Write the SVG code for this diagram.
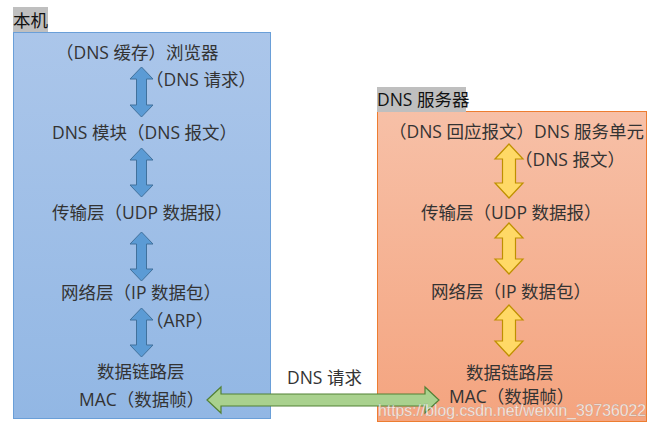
<svg xmlns="http://www.w3.org/2000/svg" width="659" height="429" viewBox="0 0 659 429">
<style>
text{font-family:"Open Sans","Noto Sans CJK SC",sans-serif;font-size:17.5px;fill:#333}
.lbl{fill:#111}
.blue{fill:#5b9bd5;stroke:#41719c;stroke-width:1}
.yel{fill:#ffd966;stroke:#bf9000;stroke-width:1.2}
.grn{fill:#a9d18e;stroke:#538135;stroke-width:1.2}
.wm{font-family:"Liberation Sans",Arial,sans-serif;font-size:17px;fill:#ffffff;fill-opacity:0.8;stroke:#888;stroke-width:0.3;stroke-opacity:0.6}
</style>
<defs>
<linearGradient id="gb" x1="0" y1="0" x2="0" y2="1"><stop offset="0" stop-color="#abc6ea"/><stop offset="1" stop-color="#92b7e4"/></linearGradient>
<linearGradient id="go" x1="0" y1="0" x2="0" y2="1"><stop offset="0" stop-color="#f7c0a7"/><stop offset="1" stop-color="#f4a47f"/></linearGradient>
</defs>
<g id="local">
<rect x="13.5" y="32.5" width="257" height="386" fill="url(#gb)" stroke="#6a9fd8" stroke-width="1"/>
<rect x="13" y="7" width="35" height="25" fill="#bfbfbf"/>
<text class="lbl" x="13" y="27">本机</text>
<text x="56" y="59">（DNS 缓存）浏览器</text>
<text x="146" y="86">（DNS 请求）</text>
<text x="52" y="139">DNS 模块（DNS 报文）</text>
<text x="52" y="219">传输层（UDP 数据报）</text>
<text x="61" y="299">网络层（IP 数据包）</text>
<text x="146" y="327">（ARP）</text>
<text x="97" y="378">数据链路层</text>
<text x="79" y="406">MAC（数据帧）</text>
</g>
<g id="server">
<rect x="377.5" y="111.5" width="269" height="310" fill="url(#go)" stroke="#ed7d31" stroke-width="1"/>
<rect x="377" y="87" width="89" height="25" fill="#bfbfbf"/>
<text class="lbl" x="377" y="106">DNS 服务器</text>
<text x="389" y="138">（DNS 回应报文）DNS 服务单元</text>
<text x="515" y="166">（DNS 报文）</text>
<text x="421" y="219">传输层（UDP 数据报）</text>
<text x="431" y="298">网络层（IP 数据包）</text>
<text x="466" y="379">数据链路层</text>
<text x="449" y="403">MAC（数据帧）</text>
</g>
<g id="connectors">
<path class="blue" d="M141.5,67 L153,79 L146.5,79 L146.5,105 L153,105 L141.5,117 L130,105 L136.5,105 L136.5,79 L130,79 Z"/>
<path class="blue" d="M141.5,148 L153,160 L146.5,160 L146.5,185 L153,185 L141.5,197 L130,185 L136.5,185 L136.5,160 L130,160 Z"/>
<path class="blue" d="M141.5,232 L153,244 L146.5,244 L146.5,269 L153,269 L141.5,281 L130,269 L136.5,269 L136.5,244 L130,244 Z"/>
<path class="blue" d="M141.5,308 L153,320 L146.5,320 L146.5,345 L153,345 L141.5,357 L130,345 L136.5,345 L136.5,320 L130,320 Z"/>
<path class="yel" d="M509,144 L523,159 L515.5,159 L515.5,183 L523,183 L509,198 L495,183 L502.5,183 L502.5,159 L495,159 Z"/>
<path class="yel" d="M509,223 L523,238 L515.5,238 L515.5,259 L523,259 L509,274 L495,259 L502.5,259 L502.5,238 L495,238 Z"/>
<path class="yel" d="M509,305 L523,320 L515.5,320 L515.5,341 L523,341 L509,356 L495,341 L502.5,341 L502.5,320 L495,320 Z"/>
<path class="grn" d="M207,400 L221,387 L221,394 L425,394 L425,387 L439,400 L425,413 L425,406 L221,406 L221,413 Z"/>
<text x="287" y="384">DNS 请求</text>
</g>
<text class="wm" x="378" y="416" textLength="268" lengthAdjust="spacingAndGlyphs">https://blog.csdn.net/weixin_39736022</text>
</svg>
